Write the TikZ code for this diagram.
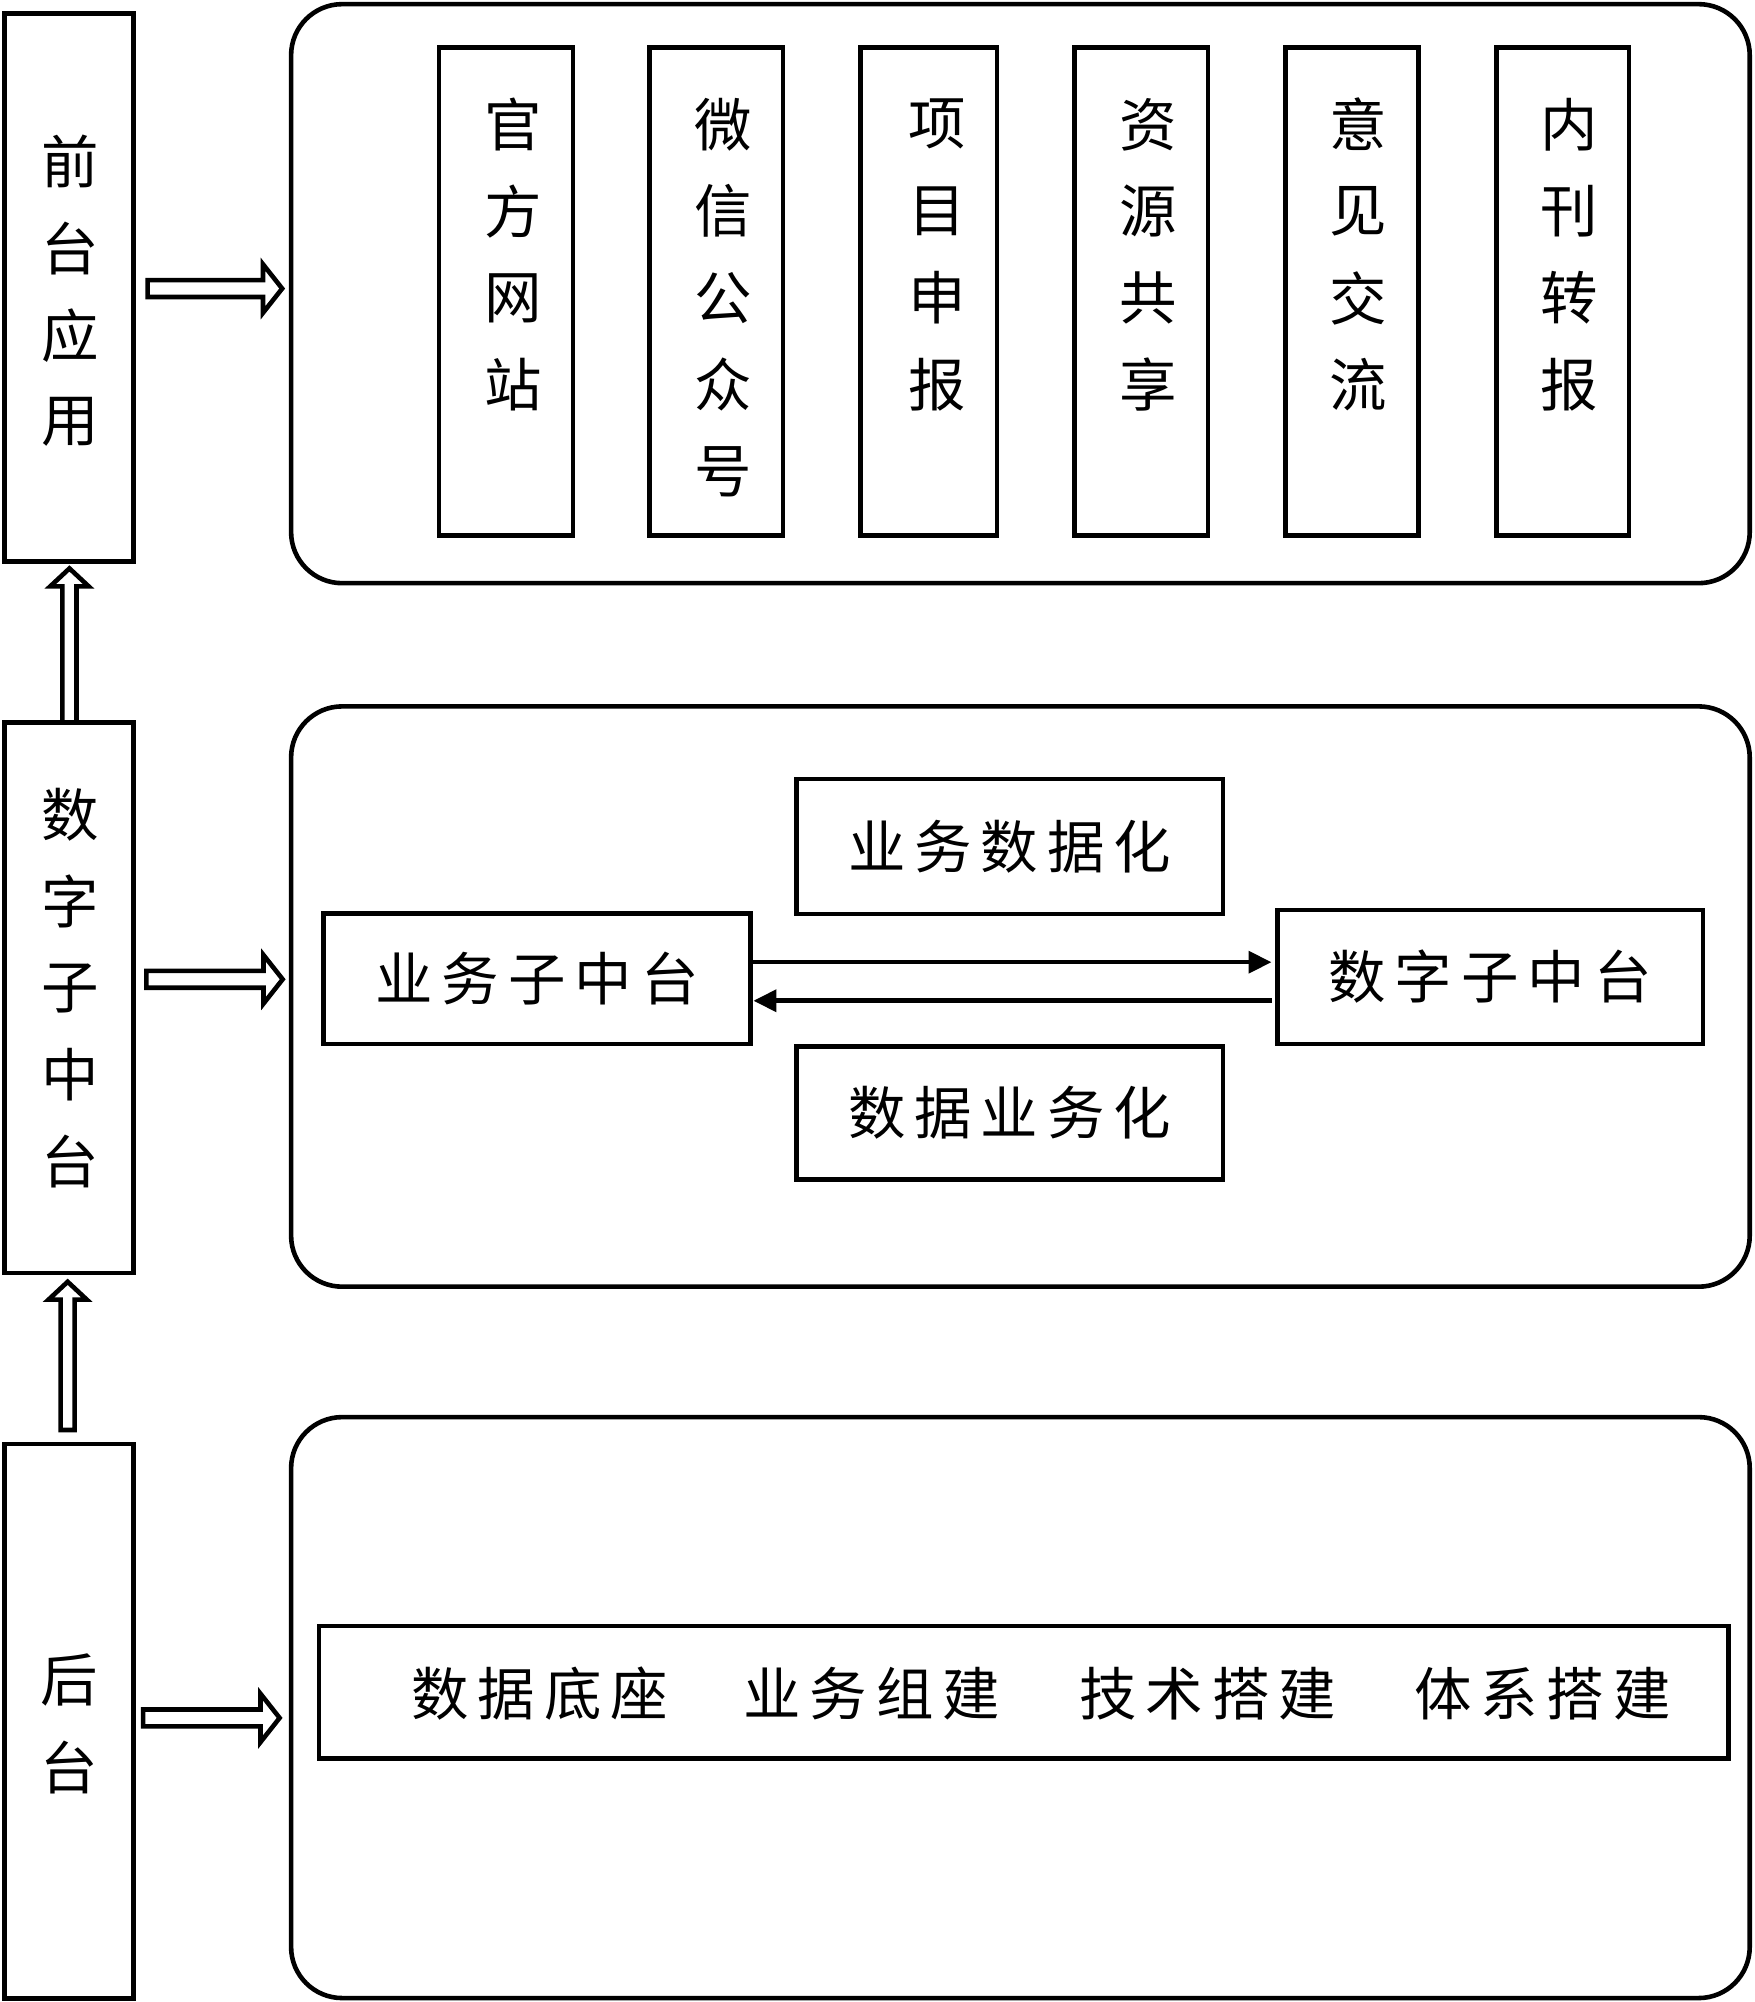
\documentclass[tikz,border=0pt]{standalone}
\usepackage{fontspec}
\newfontfamily\cjk{Noto Sans CJK SC}
\usetikzlibrary{calc,arrows.meta}
\newcommand\ks{\kern7pt\relax}
\tikzset{
  lw/.style={line width=3.6pt},
  box/.style={draw,lw,rectangle,inner sep=0pt,outer sep=0pt,font=\cjk\fontsize{45pt}{45pt}\selectfont},
  rbox/.style={box,rounded corners=40pt},
  txt/.style={font=\cjk\fontsize{45pt}{45pt}\selectfont,inner sep=0pt},
  hollow/.style={draw,lw,line join=miter},
  conn/.style={lw,-{Triangle[length=18pt,width=17pt]}},
}
\newcommand\vtext[4]{\foreach \c [count=\i] in {#4} {\node[txt] (#1-\i) at ({#2},{-(#3)-68*(\i-1)}) {\c};}}
\newcommand\rarr[5]{%
  \coordinate (ry) at (0,#3);
  \coordinate (rs) at ($(#1.east |- ry)+(#4,0)$);
  \coordinate (rt) at ($(#2.west |- ry)+(#5,0)$);
  \draw[hollow] ($(rs)+(0,6.6)$) -- ($(rt)+(-15,6.6)$) -- ($(rt)+(-15,19)$) -- (rt)
     -- ($(rt)+(-15,-19)$) -- ($(rt)+(-15,-6.6)$) -- ($(rs)+(0,-6.6)$) -- cycle;}
\newcommand\uarr[5]{%
  \coordinate (ux) at (#3,0);
  \coordinate (us) at ($(ux |- #1.north)+(0,#4)$);
  \coordinate (ut) at ($(ux |- #2.south)+(0,#5)$);
  \draw[hollow] ($(us)+(-5.5,0)$) -- ($(ut)+(-5.5,-14)$) -- ($(ut)+(-15,-14)$) -- (ut)
     -- ($(ut)+(15,-14)$) -- ($(ut)+(5.5,-14)$) -- ($(us)+(5.5,0)$) -- cycle;}
\begin{document}
\begin{tikzpicture}[x=1pt,y=1pt]
\fill[white] (0,0) rectangle (1374,-1568);
\useasboundingbox (0,0) rectangle (1374,-1568);

% left column
\node[box,minimum width=101.3pt,minimum height=429pt] (L1) at (54,-225.2) {};
\vtext{l1}{55}{126.5}{前,台,应,用}
\node[box,minimum width=101.3pt,minimum height=431pt] (L2) at (54,-781.4) {};
\vtext{l2}{55}{638}{数,字,子,中,台}
\node[box,minimum width=101.3pt,minimum height=434.5pt] (L3) at (54,-1348.2) {};
\vtext{l3}{54.4}{1316}{后,台}

% rounded panels
\node[rbox,minimum width=1142.4pt,minimum height=453.5pt] (R1) at (799.2,-230) {};
\node[rbox,minimum width=1142.4pt,minimum height=454.5pt] (R2) at (799.2,-780.5) {};
\node[rbox,minimum width=1142.4pt,minimum height=455pt] (R3) at (799.2,-1337.4) {};

% top panel boxes
\node[box,minimum width=105pt,minimum height=382pt] (A1) at (396.3,-228.4) {};
\node[box,minimum width=104.5pt,minimum height=382pt] (A2) at (561,-228.4) {};
\node[box,minimum width=107pt,minimum height=382pt] (A3) at (727.4,-228.4) {};
\node[box,minimum width=104.6pt,minimum height=382pt] (A4) at (893.7,-228.4) {};
\node[box,minimum width=104.4pt,minimum height=382pt] (A5) at (1059,-228.4) {};
\node[box,minimum width=104pt,minimum height=382pt] (A6) at (1224,-228.4) {};
\vtext{a1}{401.8}{97.4}{官,方,网,站}
\vtext{a2}{566.6}{97.4}{微,信,公,众,号}
\vtext{a3}{734}{97.4}{项,目,申,报}
\vtext{a4}{899}{97.4}{资,源,共,享}
\vtext{a5}{1063.5}{97.4}{意,见,交,流}
\vtext{a6}{1229}{97.4}{内,刊,转,报}

% middle panel
\node[box,minimum width=334pt,minimum height=106pt] (BD) at (790.8,-663) {业\ks{}务\ks{}数\ks{}据\ks{}化};
\node[box,minimum width=334pt,minimum height=102.5pt] (BZ) at (420.6,-766.5) {业\ks{}务\ks{}子\ks{}中\ks{}台};
\node[box,minimum width=333.3pt,minimum height=105pt] (DZ) at (1167,-765.2) {数\ks{}字\ks{}子\ks{}中\ks{}台};
\node[box,minimum width=334.3pt,minimum height=104.2pt] (DB) at (790.8,-871.8) {数\ks{}据\ks{}业\ks{}务\ks{}化};
\coordinate (m1) at (0,-753.6);
\coordinate (m2) at (0,-783.8);
\draw[conn] ($(BZ.east |- m1)+(2,0)$) -- ($(DZ.west |- m1)+(-4.5,0)$);
\draw[conn] ($(DZ.west |- m2)+(-4.5,0)$) -- ($(BZ.east |- m2)+(2.5,0)$);

% bottom panel
\node[box,minimum width=1104pt,minimum height=104pt] (W) at (801.7,-1325.4) {};
\node[txt] (w1) at (422.7,-1326.7) {数\ks{}据\ks{}底\ks{}座};
\node[txt] (w2) at (682.6,-1326.7) {业\ks{}务\ks{}组\ks{}建};
\node[txt] (w3) at (946,-1326.7) {技\ks{}术\ks{}搭\ks{}建};
\node[txt] (w4) at (1208,-1326.7) {体\ks{}系\ks{}搭\ks{}建};

% hollow arrows
\rarr{L1}{R1}{-226}{11}{-7}
\rarr{L2}{R2}{-767}{10}{-6.6}
\rarr{L3}{R3}{-1345.5}{7.5}{-9}
\uarr{L2}{L1}{54.4}{0}{-5.5}
\uarr{L3}{L2}{53}{11}{-7}
\end{tikzpicture}
\end{document}
